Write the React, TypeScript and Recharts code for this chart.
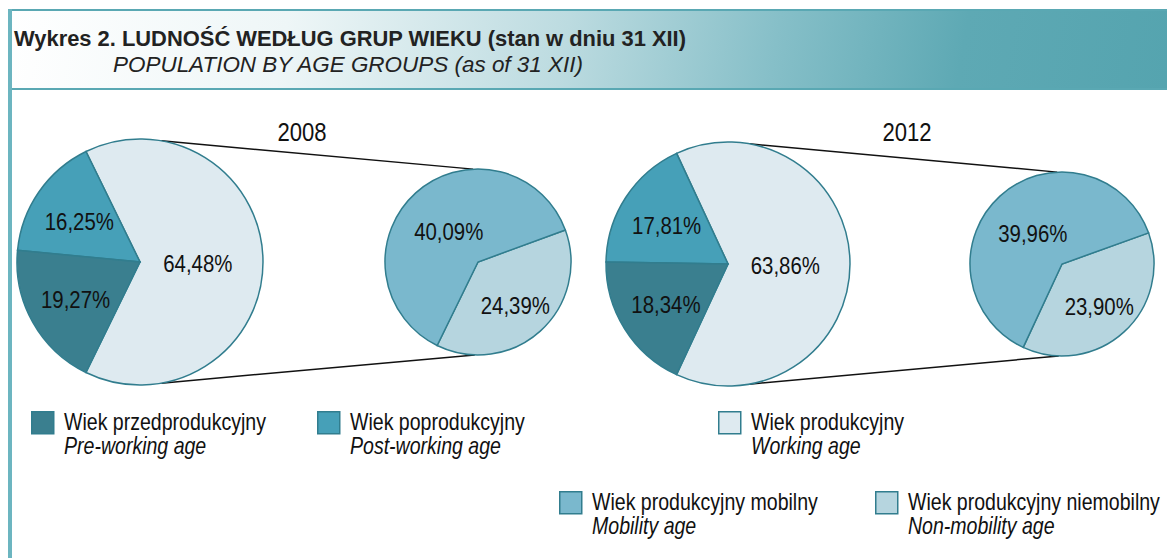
import React from "react";
import { PieChart, Pie, Cell } from "recharts";

// values (per cent of total population)
const years = ["2008", "2012"];
const preWorking = [19.27, 18.34];
const postWorking = [16.25, 17.81];
const working = [64.48, 63.86];
const mobility = [40.09, 39.96];
const nonMobility = [24.39, 23.9];

const namesPl = [
    "Wiek przedprodukcyjny",
    "Wiek poprodukcyjny",
    "Wiek produkcyjny",
    "Wiek produkcyjny mobilny",
    "Wiek produkcyjny niemobilny",
];
const namesEn = ["Pre-working age", "Post-working age", "Working age", "Mobility age", "Non-mobility age"];

const COLORS = {
    pre: "#3a7f8f",
    post: "#46a0b8",
    work: "#deeaf0",
    mob: "#7ab8cd",
    nonMob: "#b6d5df",
    stroke: "#317d8e",
};
const legendColors = [COLORS.pre, COLORS.post, COLORS.work, COLORS.mob, COLORS.nonMob];

const FONT = "'Liberation Sans', Arial, sans-serif";
const NARROW = 0.85; // no Arial Narrow here, so squeeze Liberation Sans

// pie geometry for each year
const layout = [
    { big: { cx: 140, cy: 262, r: 123 }, small: { cx: 478, cy: 262, r: 93 }, year: { x: 302, y: 141 } },
    { big: { cx: 728, cy: 264, r: 122 }, small: { cx: 1062, cy: 264, r: 92 }, year: { x: 907, y: 141 } },
];

const legendPos = [
    { x: 31, y: 411 },
    { x: 317, y: 411 },
    { x: 718, y: 411 },
    { x: 559, y: 491 },
    { x: 875, y: 491 },
];

const RAD = Math.PI / 180;
const fmt = (v: number) => v.toFixed(2).replace(".", ",") + "%";

function NText({ x, y, size, italic, anchor, baseline, children }: any) {
    return (
        <text
            transform={`translate(${x},${y}) scale(${NARROW},1)`}
            textAnchor={anchor || "start"}
            dominantBaseline={baseline || "auto"}
            fontFamily={FONT}
            fontSize={size}
            fontStyle={italic ? "italic" : "normal"}
            fill="#111"
        >
            {children}
        </text>
    );
}

const renderLabel = (props: any) => {
    const { cx, cy, midAngle, outerRadius, value, percent } = props;
    const k = percent > 0.5 ? 0.47 : 0.6;
    const x = cx + outerRadius * k * Math.cos(-midAngle * RAD);
    const y = cy + outerRadius * k * Math.sin(-midAngle * RAD);
    return (
        <NText x={x} y={y + 2} size={24} anchor="middle" baseline="central">
            {fmt(value)}
        </NText>
    );
};

function Connectors() {
    const pt = (c: { cx: number; cy: number; r: number }, deg: number) => [
        c.cx + c.r * Math.cos(deg * RAD),
        c.cy - c.r * Math.sin(deg * RAD),
    ];
    return (
        <svg width={1167} height={558} style={{ position: "absolute", left: 0, top: 0 }}>
            {layout.map((l, i) => {
                const [x1, y1] = pt(l.big, 80);
                const [x2, y2] = pt(l.small, 93);
                const [x3, y3] = pt(l.big, -80);
                const [x4, y4] = pt(l.small, -92);
                return (
                    <g key={i}>
                        <line x1={x1} y1={y1} x2={x2} y2={y2} stroke="#111" strokeWidth={1.5} />
                        <line x1={x3} y1={y3} x2={x4} y2={y4} stroke="#111" strokeWidth={1.5} />
                        <NText x={l.year.x} y={l.year.y} size={26} anchor="middle">
                            {years[i]}
                        </NText>
                    </g>
                );
            })}
        </svg>
    );
}

export default function App() {
    return (
        <div style={{ position: "absolute", left: 0, top: 0, width: 1167, height: 558, background: "#fff", overflow: "hidden" }}>
            {/* header band */}
            <div
                style={{
                    position: "absolute",
                    left: 8,
                    top: 9,
                    width: 1159,
                    height: 77,
                    borderTop: "2px solid #5aa8b3",
                    borderBottom: "2px solid #5aa8b3",
                    background: "linear-gradient(100deg, #ffffff 0%, #eef6f7 24%, #bcdbe0 48%, #86bfc8 66%, #5ea9b4 82%, #55a4af 100%)",
                }}
            />
            <div style={{ position: "absolute", left: 8, top: 9, width: 4, height: 549, background: "#6cb5c0" }} />

            <Connectors />

            <div style={{ position: "absolute", left: 0, top: 0 }}>
                <PieChart width={1167} height={558} margin={{ top: 0, right: 0, bottom: 0, left: 0 }}>
                    {layout.map((l, i) => {
                        const bigData = [
                            { name: namesPl[2], value: working[i] },
                            { name: namesPl[1], value: postWorking[i] },
                            { name: namesPl[0], value: preWorking[i] },
                        ];
                        const start = -working[i] * 1.8;
                        return (
                            <Pie
                                key={"big" + i}
                                data={bigData}
                                dataKey="value"
                                cx={l.big.cx}
                                cy={l.big.cy}
                                outerRadius={l.big.r}
                                startAngle={start}
                                endAngle={start + 360}
                                stroke={COLORS.stroke}
                                strokeWidth={1.5}
                                label={renderLabel}
                                labelLine={false}
                                isAnimationActive={false}
                            >
                                <Cell fill={COLORS.work} />
                                <Cell fill={COLORS.post} />
                                <Cell fill={COLORS.pre} />
                            </Pie>
                        );
                    })}
                    {layout.map((l, i) => {
                        const smallData = [
                            { name: namesPl[4], value: nonMobility[i] },
                            { name: namesPl[3], value: mobility[i] },
                        ];
                        const start = -working[i] * 1.8;
                        return (
                            <Pie
                                key={"small" + i}
                                data={smallData}
                                dataKey="value"
                                cx={l.small.cx}
                                cy={l.small.cy}
                                outerRadius={l.small.r}
                                startAngle={start}
                                endAngle={start + 360}
                                stroke={COLORS.stroke}
                                strokeWidth={1.5}
                                label={renderLabel}
                                labelLine={false}
                                isAnimationActive={false}
                            >
                                <Cell fill={COLORS.nonMob} />
                                <Cell fill={COLORS.mob} />
                            </Pie>
                        );
                    })}
                </PieChart>
            </div>

            <svg width={1167} height={558} style={{ position: "absolute", left: 0, top: 0, pointerEvents: "none" }}>
                <text x={14} y={46} fontFamily={FONT} fontWeight="bold" fontSize={22} fill="#222" textLength={672} lengthAdjust="spacingAndGlyphs">
                    Wykres 2. LUDNOŚĆ WEDŁUG GRUP WIEKU (stan w dniu 31 XII)
                </text>
                <text x={113} y={72} fontFamily={FONT} fontStyle="italic" fontSize={22} fill="#222" textLength={470} lengthAdjust="spacingAndGlyphs">
                    POPULATION BY AGE GROUPS (as of 31 XII)
                </text>
                {legendPos.map((p, i) => (
                    <g key={i}>
                        <rect x={p.x + 0.75} y={p.y + 0.75} width={22} height={22} fill={legendColors[i]} stroke={COLORS.stroke} strokeWidth={1.5} />
                        <NText x={p.x + 33} y={p.y + 19} size={23}>
                            {namesPl[i]}
                        </NText>
                        <NText x={p.x + 33} y={p.y + 43} size={23} italic>
                            {namesEn[i]}
                        </NText>
                    </g>
                ))}
            </svg>
        </div>
    );
}
